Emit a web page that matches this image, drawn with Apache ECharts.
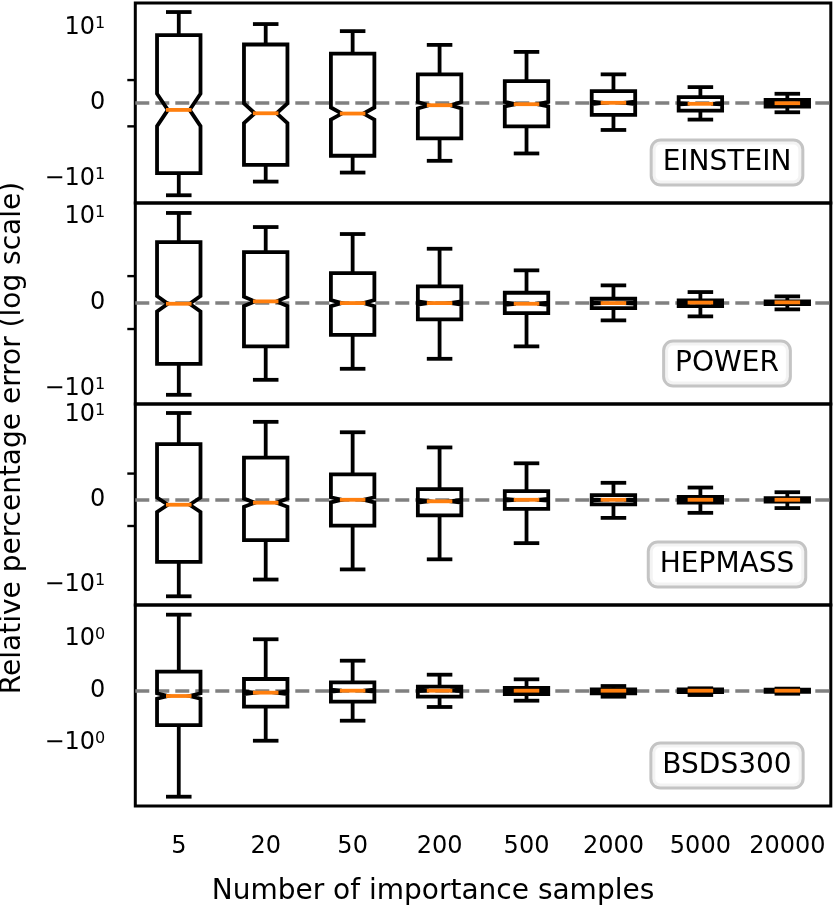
<!DOCTYPE html>
<html>
<head>
<meta charset="utf-8">
<script src="https://cdn.jsdelivr.net/npm/echarts@6/dist/echarts.min.js"></script>
<style>
  html, body { margin: 0; padding: 0; background: #fff; }
  #main { width: 835px; height: 907px; }
</style>
</head>
<body>
<div id="main"></div>
<script>
// x categories: number of importance samples
const samples = ['5', '20', '50', '200', '500', '2000', '5000', '20000'];

// one row per sample size: [lower whisker, Q1, median, Q3, upper whisker]  (relative % error)
const einstein = [
  [-25.1, -7.41, -0.29, 6.67, 23.9],
  [-11.8, -4.67, -0.435, 3.97, 12.3],
  [-7.16, -2.83, -0.447, 2.41, 8.32],
  [-3.74, -1.52, -0.087, 1.247, 3.89],
  [-2.49, -1.0, -0.043, 0.956, 2.64],
  [-1.156, -0.504, 0.017, 0.521, 1.247],
  [-0.708, -0.317, -0.026, 0.261, 0.695],
  [-0.391, -0.143, 0, 0.148, 0.408]
];
const power = [
  [-13.4, -2.99, -0.045, 2.89, 11.8],
  [-6.49, -1.656, 0.045, 1.91, 5.97],
  [-3.81, -1.218, -0.019, 1.116, 4.26],
  [-2.35, -0.635, -0.019, 0.613, 2.09],
  [-1.656, -0.397, -0.045, 0.371, 1.218],
  [-0.673, -0.208, -0.019, 0.144, 0.65],
  [-0.522, -0.132, 0, 0.083, 0.397],
  [-0.257, -0.057, 0.008, 0.045, 0.234]
];
const hepmass = [
  [-17.2, -3.22, -0.189, 2.34, 10.7],
  [-7.59, -1.539, -0.112, 1.612, 6.95],
  [-4.63, -0.984, 0, 0.968, 4.18],
  [-2.83, -0.598, -0.058, 0.405, 1.997],
  [-1.654, -0.343, 0, 0.328, 1.392],
  [-0.69, -0.174, 0, 0.174, 0.648],
  [-0.498, -0.112, 0, 0.108, 0.467],
  [-0.316, -0.073, 0, 0.058, 0.289]
];
const bsds300 = [
  [-2.10, -0.66, -0.102, 0.365, 1.462],
  [-0.962, -0.308, -0.038, 0.225, 0.989],
  [-0.577, -0.211, 0, 0.161, 0.577],
  [-0.313, -0.115, 0, 0.077, 0.308],
  [-0.192, -0.063, 0, 0.052, 0.219],
  [-0.115, -0.05, 0, 0.027, 0.09],
  [-0.083, -0.025, 0, 0.027, 0.046],
  [-0.058, -0.02, 0, 0.02, 0.04]
];

const names = ['EINSTEIN', 'POWER', 'HEPMASS', 'BSDS300'];
const panels = [einstein, power, hepmass, bsds300];
// y range of each panel
const yLimits = [[-38.5, 39.4], [-20.9, 19.1], [-26.3, 16.6], [-2.64, 1.648]];
// labelled decade of each panel (+-10^1 or +-10^0)
const majorTick = [10, 10, 10, 1];
// unlabelled minor ticks (upper three panels only)
const minorTicks = [[-1, 1], [-1, 1], [-1, 1], []];
const runs = 1000; // samples behind each box, sets the notch size

// symlog like matplotlib (base 10, linthresh 2, linscale 1)
const LINTHRESH = 2;
const LINSCALE_ADJ = 1 / (1 - 1 / 10);
function symlog(v) {
  const a = Math.abs(v);
  if (a <= LINTHRESH) return v * LINSCALE_ADJ;
  return Math.sign(v) * LINTHRESH * (LINSCALE_ADJ + Math.log10(a / LINTHRESH));
}

const FONT = '"DejaVu Sans", sans-serif';
const grids = [[3, 200], [203, 201], [404, 201], [605, 201]]; // top, height
const LW = 3.8;

function renderBox(params, api) {
  const i = api.value(0);
  const band = api.size([1, 0])[0];
  const cx = api.coord([i, 0])[0];
  const half = band * 0.25, cap = band * 0.125;
  const py = k => api.coord([i, api.value(k)])[1];
  const wl = py(1), q1 = py(2), med = py(3), q3 = py(4), wh = py(5), nlo = py(6), nhi = py(7);
  const edge = { stroke: '#000', lineWidth: LW, fill: 'none', lineJoin: 'miter' };
  const capped = { stroke: '#000', lineWidth: LW, lineCap: 'square' };
  const line = (x1, y1, x2, y2, style) => ({ type: 'line', shape: { x1, y1, x2, y2 }, style });
  return {
    type: 'group',
    children: [
      { type: 'polygon', shape: { points: [
          [cx - half, q1], [cx + half, q1], [cx + half, nlo], [cx + cap, med], [cx + half, nhi],
          [cx + half, q3], [cx - half, q3], [cx - half, nhi], [cx - cap, med], [cx - half, nlo]
        ] }, style: edge },
      line(cx, q1, cx, wl, edge),
      line(cx, q3, cx, wh, edge),
      line(cx - cap, wl, cx + cap, wl, capped),
      line(cx - cap, wh, cx + cap, wh, capped),
      line(cx - cap, med, cx + cap, med, { stroke: '#ff7f0e', lineWidth: LW, lineCap: 'square' })
    ]
  };
}

// short outward tick on the left spine at a y value
function renderMinorTick(params, api) {
  const y = api.coord([0, api.value(1)])[1];
  const x0 = params.coordSys.x;
  return { type: 'line', shape: { x1: x0 - 8, y1: y, x2: x0, y2: y },
           style: { stroke: '#000', lineWidth: 2.4 } };
}

const grid = [], xAxis = [], yAxis = [], series = [], graphic = [];

panels.forEach((rows, p) => {
  grid.push({ left: 135.3, right: 4.2, top: grids[p][0], height: grids[p][1],
    show: true, borderColor: '#000', borderWidth: 3, backgroundColor: 'transparent' });

  const last = p === panels.length - 1;
  xAxis.push({
    type: 'category', gridIndex: p, data: samples, boundaryGap: true, show: last,
    axisLine: { show: false },
    axisTick: { alignWithLabel: true, interval: 0, length: 14, lineStyle: { color: '#000', width: 3 } },
    axisLabel: { interval: 0, fontSize: 24, color: '#000', fontFamily: FONT, margin: 29 }
  });

  const m = majorTick[p];
  const e = String(Math.round(Math.log10(m)));
  yAxis.push({
    type: 'value', gridIndex: p, min: symlog(yLimits[p][0]), max: symlog(yLimits[p][1]),
    splitLine: { show: false }, axisLine: { show: false },
    axisTick: { customValues: [symlog(-m), 0, symlog(m)], length: 14, lineStyle: { color: '#000', width: 3 } },
    axisLabel: {
      customValues: [symlog(-m), 0, symlog(m)], margin: 30,
      formatter: v => Math.abs(v) < 1e-9 ? '{n|0}' : '{n|' + (v < 0 ? '\u2212' : '') + '10}{s|' + e + '}',
      rich: {
        n: { fontSize: 24, color: '#000', fontFamily: FONT },
        s: { fontSize: 16, color: '#000', fontFamily: FONT, verticalAlign: 'top' }
      }
    }
  });

  const data = rows.map((r, i) => {
    const d = 1.57 * (r[3] - r[1]) / Math.sqrt(runs);
    return [i, symlog(r[0]), symlog(r[1]), symlog(r[2]), symlog(r[3]), symlog(r[4]),
            symlog(r[2] - d), symlog(r[2] + d)];
  });

  series.push({
    type: 'custom', name: names[p], xAxisIndex: p, yAxisIndex: p, z: 3,
    renderItem: renderBox, encode: { x: 0, y: [1, 5] }, data,
    markLine: {
      z: 1, silent: true, symbol: ['none', 'none'], label: { show: false },
      lineStyle: { type: [14, 6], color: '#808080', width: 3.5 },
      data: [{ yAxis: 0 }]
    }
  });

  if (minorTicks[p].length) {
    series.push({
      type: 'custom', xAxisIndex: p, yAxisIndex: p, clip: false, silent: true, z: 3,
      renderItem: renderMinorTick, encode: { x: 0, y: 1 },
      data: minorTicks[p].map(v => [0, symlog(v)])
    });
  }

  graphic.push({
    type: 'text', x: 727, y: grids[p][0] + grids[p][1] - 40.5, z: 10,
    style: {
      text: names[p], font: '28px ' + FONT, fill: '#000', align: 'center', verticalAlign: 'middle',
      backgroundColor: 'rgba(255,255,255,0.8)', borderColor: '#c4c4c4', borderWidth: 3,
      borderRadius: 8, padding: [7, 10]
    }
  });
});

graphic.push({
  type: 'text', x: 433, y: 892,
  style: { text: 'Number of importance samples', font: '28px ' + FONT, fill: '#000', align: 'center', verticalAlign: 'middle' }
});
graphic.push({
  type: 'text', x: 13, y: 438, rotation: Math.PI / 2,
  style: { text: 'Relative percentage error (log scale)', font: '28px ' + FONT, fill: '#000', align: 'center', verticalAlign: 'middle' }
});

const chart = echarts.init(document.getElementById('main'));
chart.setOption({
  animation: false,
  backgroundColor: '#fff',
  textStyle: { fontFamily: FONT },
  grid, xAxis, yAxis, series, graphic
});
</script>
</body>
</html>
